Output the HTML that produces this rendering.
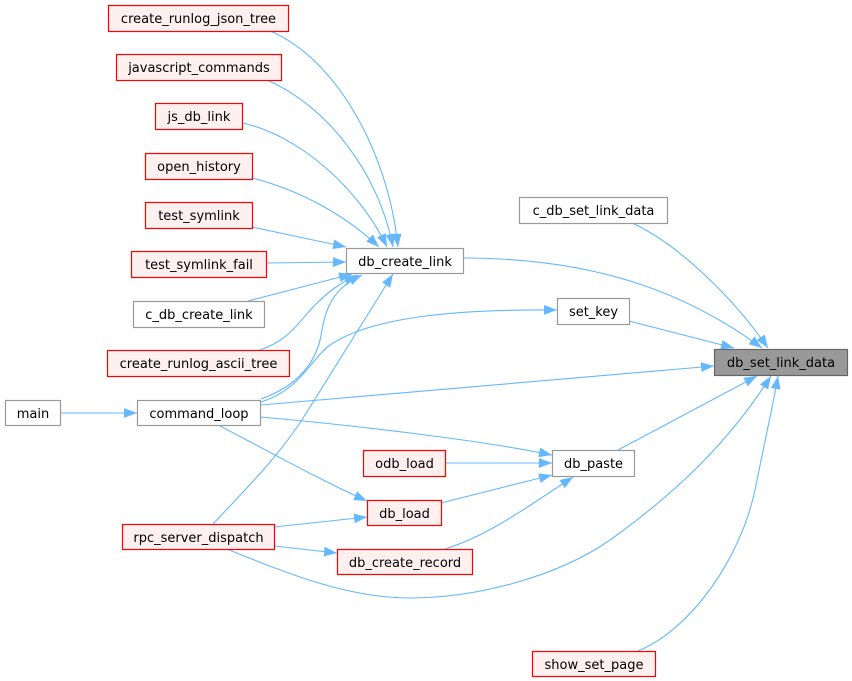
<!DOCTYPE html>
<html>
<head>
<meta charset="utf-8">
<style>
  html,body{margin:0;padding:0;background:#fff;}
  svg{display:block;}
  text{font-family:"DejaVu Sans","Liberation Sans",sans-serif;font-size:13px;fill:#000;}
  .e{fill:none;stroke:#63b8ff;stroke-width:1.1;}
  .n{fill:#fff;stroke:#999;stroke-width:1.2;}
  .r{fill:#fff0f0;stroke:#ff0000;stroke-width:1.2;}
  .h{fill:#999;stroke:#666;stroke-width:1.2;}
</style>
</head>
<body>
<svg width="852" height="681" viewBox="0 0 852 681" xmlns="http://www.w3.org/2000/svg">
<defs>
  <marker id="a" markerUnits="userSpaceOnUse" markerWidth="13" markerHeight="10" viewBox="0 0 12 9" refX="12" refY="4.5" orient="auto">
    <path d="M0,0 L12,4.5 L0,9 z" fill="#63b8ff"/>
  </marker>
</defs>

<!-- edges -->
<g class="edges">
<path class="e" marker-end="url(#a)" d="M270,31 C335,58 388,150 398,247"/>
<path class="e" marker-end="url(#a)" d="M267,80 C325,105 378,170 393,247"/>
<path class="e" marker-end="url(#a)" d="M242,123 C300,135 360,190 387,247"/>
<path class="e" marker-end="url(#a)" d="M252,178 C300,190 345,215 379,247"/>
<path class="e" marker-end="url(#a)" d="M252,227 L346,247"/>
<path class="e" marker-end="url(#a)" d="M266,263 L346,262"/>
<path class="e" marker-end="url(#a)" d="M248,301 L352,274"/>
<path class="e" marker-end="url(#a)" d="M260,350 C290,340 300,320 315,305 C328,292 340,283 357,275"/>
<path class="e" marker-end="url(#a)" d="M261,399 C300,385 318,360 322,330 C327,300 340,285 362,275"/>
<path class="e" marker-end="url(#a)" d="M261,402 C300,390 310,360 330,345 C370,318 450,309 557,310"/>
<path class="e" marker-end="url(#a)" d="M213,524 C245,490 280,455 305,415 L393,274"/>
<path class="e" marker-end="url(#a)" d="M463,258 C600,258 690,295 762,348"/>
<path class="e" marker-end="url(#a)" d="M632,223 C680,245 735,300 768,348"/>
<path class="e" marker-end="url(#a)" d="M629,321 L734,348"/>
<path class="e" marker-end="url(#a)" d="M261,405 L714,366"/>
<path class="e" marker-end="url(#a)" d="M261,417 C350,425 480,440 552,455"/>
<path class="e" marker-end="url(#a)" d="M60,413 L137,413"/>
<path class="e" marker-end="url(#a)" d="M220,426 C270,452 320,480 367,501"/>
<path class="e" marker-end="url(#a)" d="M445,463 L552,463"/>
<path class="e" marker-end="url(#a)" d="M441,503 L552,475"/>
<path class="e" marker-end="url(#a)" d="M445,549 C490,535 530,505 573,477"/>
<path class="e" marker-end="url(#a)" d="M274,527 L367,517"/>
<path class="e" marker-end="url(#a)" d="M274,546 L337,553"/>
<path class="e" marker-end="url(#a)" d="M227,549 C290,575 350,598 410,598 C480,598 560,575 610,540 C680,490 730,440 771,376"/>
<path class="e" marker-end="url(#a)" d="M618,450 L757,376"/>
<path class="e" marker-end="url(#a)" d="M638,651 C690,630 740,560 755,490 C765,440 772,410 778,376"/>
</g>

<!-- nodes -->
<g>
<rect class="r" x="108.5" y="5.5" width="180" height="26"/>
<text x="198.5" y="23" text-anchor="middle">create_runlog_json_tree</text>

<rect class="r" x="116.5" y="54.5" width="165" height="26"/>
<text x="199" y="72" text-anchor="middle">javascript_commands</text>

<rect class="r" x="155.5" y="103.5" width="87" height="26"/>
<text x="199" y="121" text-anchor="middle">js_db_link</text>

<rect class="r" x="145.5" y="153.5" width="107" height="26"/>
<text x="199" y="171" text-anchor="middle">open_history</text>

<rect class="r" x="145.5" y="202.5" width="107" height="26"/>
<text x="199" y="220" text-anchor="middle">test_symlink</text>

<rect class="r" x="131.5" y="251.5" width="135" height="26"/>
<text x="199" y="269" text-anchor="middle">test_symlink_fail</text>

<rect class="n" x="133.5" y="301.5" width="131" height="26"/>
<text x="199" y="319" text-anchor="middle">c_db_create_link</text>

<rect class="r" x="107.5" y="350.5" width="182" height="26"/>
<text x="198.5" y="368" text-anchor="middle">create_runlog_ascii_tree</text>

<rect class="n" x="137.5" y="400.5" width="123" height="25"/>
<text x="199" y="418" text-anchor="middle">command_loop</text>

<rect class="n" x="5.5" y="400.5" width="55" height="25"/>
<text x="33" y="418" text-anchor="middle">main</text>

<rect class="r" x="122.5" y="524.5" width="152" height="25"/>
<text x="198.5" y="542" text-anchor="middle">rpc_server_dispatch</text>

<rect class="n" x="346.5" y="248.5" width="117" height="25"/>
<text x="405" y="266" text-anchor="middle">db_create_link</text>

<rect class="r" x="363.5" y="450.5" width="82" height="26"/>
<text x="404.5" y="468" text-anchor="middle">odb_load</text>

<rect class="r" x="367.5" y="500.5" width="74" height="25"/>
<text x="404.5" y="518" text-anchor="middle">db_load</text>

<rect class="r" x="337.5" y="549.5" width="135" height="25"/>
<text x="405" y="567" text-anchor="middle">db_create_record</text>

<rect class="n" x="519.5" y="197.5" width="148" height="26"/>
<text x="593.5" y="215" text-anchor="middle">c_db_set_link_data</text>

<rect class="n" x="557.5" y="298.5" width="72" height="26"/>
<text x="593.5" y="316" text-anchor="middle">set_key</text>

<rect class="h" x="714.5" y="349.5" width="133" height="26"/>
<text x="781" y="367" text-anchor="middle">db_set_link_data</text>

<rect class="n" x="552.5" y="450.5" width="82" height="26"/>
<text x="593.5" y="468" text-anchor="middle">db_paste</text>

<rect class="r" x="532.5" y="651.5" width="123" height="25"/>
<text x="594" y="669" text-anchor="middle">show_set_page</text>
</g>
</svg>
</body>
</html>
